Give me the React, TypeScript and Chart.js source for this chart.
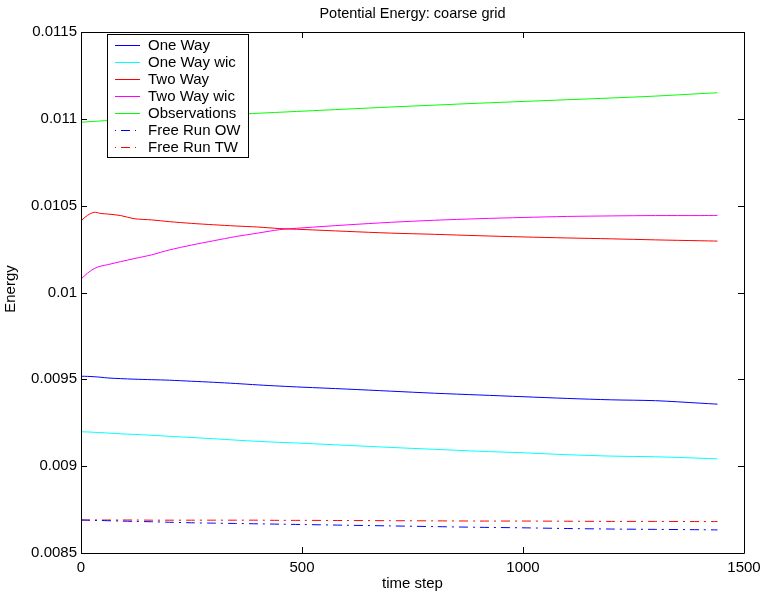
import React, { useEffect, useRef } from "react";
import { Chart, registerables } from "chart.js";

Chart.register(...registerables);

const timeSteps = [0, 15, 30, 45, 60, 90, 120, 160, 200, 250, 300, 350, 400, 450, 500, 600, 700, 800, 900, 1000, 1100, 1200, 1300, 1400, 1440];

const oneWay = [0.009518, 0.009517, 0.009515, 0.009512, 0.009508, 0.009504, 0.009501, 0.009498, 0.009495, 0.009489, 0.009483, 0.009476, 0.009468, 0.009461, 0.009455, 0.009444, 0.009432, 0.00942, 0.00941, 0.0094, 0.00939, 0.009382, 0.009377, 0.009363, 0.009357];
const oneWayWic = [0.009198, 0.009197, 0.009195, 0.009193, 0.009191, 0.009186, 0.009183, 0.009178, 0.009172, 0.009165, 0.009158, 0.00915, 0.009143, 0.009137, 0.009132, 0.00912, 0.009108, 0.009097, 0.009086, 0.009077, 0.009066, 0.009058, 0.009054, 0.009046, 0.009042];
const twoWay = [0.010413, 0.010445, 0.010462, 0.010455, 0.010452, 0.010443, 0.010425, 0.010418, 0.010408, 0.010398, 0.01039, 0.010383, 0.010377, 0.010368, 0.010363, 0.010352, 0.010342, 0.010335, 0.010327, 0.01032, 0.010314, 0.010309, 0.010303, 0.010298, 0.010296];
const twoWayWic = [0.010077, 0.010112, 0.010138, 0.010152, 0.01016, 0.010178, 0.010195, 0.010217, 0.010245, 0.010273, 0.010298, 0.010322, 0.010342, 0.010362, 0.010372, 0.010389, 0.010404, 0.010416, 0.010425, 0.010432, 0.010438, 0.010441, 0.010443, 0.010443, 0.010444];
const observations = [0.01098, 0.010983, 0.010985, 0.010988, 0.01099, 0.010994, 0.010998, 0.011003, 0.011008, 0.011014, 0.01102, 0.011026, 0.011032, 0.011038, 0.011044, 0.011056, 0.011068, 0.011079, 0.01109, 0.0111, 0.01111, 0.01112, 0.011131, 0.011145, 0.01115];
const freeRunOW = [0.00869, 0.008689, 0.008688, 0.008687, 0.008686, 0.008684, 0.008682, 0.00868, 0.008677, 0.008674, 0.008672, 0.00867, 0.008668, 0.008666, 0.008664, 0.00866, 0.008656, 0.008652, 0.008648, 0.008645, 0.008641, 0.008638, 0.008636, 0.008634, 0.008633];
const freeRunTW = [0.00869, 0.00869, 0.00869, 0.00869, 0.00869, 0.00869, 0.00869, 0.008689, 0.008689, 0.008689, 0.008689, 0.008689, 0.008689, 0.008688, 0.008688, 0.008687, 0.008686, 0.008685, 0.008684, 0.008684, 0.008683, 0.008682, 0.008682, 0.008681, 0.008681];

const seriesLabels = ["One Way", "One Way wic", "Two Way", "Two Way wic", "Observations", "Free Run OW", "Free Run TW"];
const seriesColors = ["#0000ff", "#00ffff", "#ff0000", "#ff00ff", "#00ff00", "#0000ff", "#ff0000"];
const seriesData = [oneWay, oneWayWic, twoWay, twoWayWic, observations, freeRunOW, freeRunTW];
const seriesDashed = [false, false, false, false, false, true, true];

const xTicks = [0, 500, 1000, 1500];
const yTicks = [0.0085, 0.009, 0.0095, 0.01, 0.0105, 0.011, 0.0115];
const yTickLabels = ["0.0085", "0.009", "0.0095", "0.01", "0.0105", "0.011", "0.0115"];

const titleText = "Potential Energy: coarse grid";
const xLabel = "time step";
const yLabel = "Energy";

const FONT = "'Liberation Sans', Arial, Helvetica, sans-serif";
const DASH = [9, 5, 2, 5];

const framePlugin = {
  id: "framePlugin",
  afterDraw(chart: any) {
    const ctx = chart.ctx;
    const { left, right, top, bottom } = chart.chartArea;
    const xs = chart.scales.x;
    const ys = chart.scales.y;
    ctx.save();
    ctx.strokeStyle = "#000";
    ctx.lineWidth = 1;
    ctx.beginPath();
    ctx.rect(Math.round(left) + 0.5, Math.round(top) + 0.5, Math.round(right - left), Math.round(bottom - top));
    ctx.stroke();
    const tl = 6;
    ctx.beginPath();
    xTicks.forEach((v) => {
      const px = Math.round(xs.getPixelForValue(v)) + 0.5;
      ctx.moveTo(px, bottom);
      ctx.lineTo(px, bottom - tl);
      ctx.moveTo(px, top);
      ctx.lineTo(px, top + tl);
    });
    yTicks.forEach((v) => {
      const py = Math.round(ys.getPixelForValue(v)) + 0.5;
      ctx.moveTo(left, py);
      ctx.lineTo(left + tl, py);
      ctx.moveTo(right, py);
      ctx.lineTo(right - tl, py);
    });
    ctx.stroke();

    // title & axis labels
    ctx.fillStyle = "#000";
    ctx.font = `14.5px ${FONT}`;
    ctx.textAlign = "center";
    ctx.textBaseline = "middle";
    const cx = (left + right) / 2;
    ctx.fillText(titleText, cx, 14);
    ctx.font = `15px ${FONT}`;
    ctx.fillText(xLabel, cx, 584);
    ctx.save();
    ctx.translate(11, 289);
    ctx.rotate(-Math.PI / 2);
    ctx.fillText(yLabel, 0, 0);
    ctx.restore();

    // legend
    const lx = 107.5, ly = 34.5, lw = 141, lh = 123;
    ctx.fillStyle = "#fff";
    ctx.fillRect(lx, ly, lw, lh);
    ctx.strokeStyle = "#000";
    ctx.strokeRect(lx, ly, lw, lh);
    ctx.font = `15px ${FONT}`;
    ctx.textAlign = "left";
    seriesLabels.forEach((lab, i) => {
      const yy = 45 + i * 17;
      ctx.strokeStyle = seriesColors[i];
      ctx.setLineDash(seriesDashed[i] ? [1, 5, 9, 5] : []);
      ctx.beginPath();
      ctx.moveTo(115, yy + 0.5);
      ctx.lineTo(140, yy + 0.5);
      ctx.stroke();
      ctx.setLineDash([]);
      ctx.fillStyle = "#000";
      ctx.fillText(lab, 148, yy + 1);
    });
    ctx.restore();
  },
};

export default function App() {
  const ref = useRef<HTMLCanvasElement | null>(null);
  useEffect(() => {
    if (!ref.current) return;
    const datasets = seriesLabels.map((lab, i) => ({
      label: lab,
      data: timeSteps.map((t, j) => ({ x: t, y: seriesData[i][j] })),
      borderColor: seriesColors[i],
      backgroundColor: seriesColors[i],
      borderWidth: 1,
      borderDash: seriesDashed[i] ? DASH : [],
      pointRadius: 0,
      tension: 0.3,
      fill: false,
    }));
    const chart = new Chart(ref.current, {
      type: "line",
      data: { datasets },
      options: {
        responsive: false,
        animation: false,
        layout: { padding: { top: 32, right: 19, bottom: 0, left: 0 } },
        plugins: { legend: { display: false }, title: { display: false }, tooltip: { enabled: false } },
        scales: {
          x: {
            type: "linear",
            min: 0,
            max: 1500,
            grid: { display: false, drawTicks: false },
            border: { display: false },
            afterBuildTicks: (s: any) => {
              s.ticks = xTicks.map((v) => ({ value: v }));
            },
            afterFit: (s: any) => {
              s.height = 46;
              s.paddingLeft = 0;
              s.paddingRight = 0;
            },
            ticks: {
              padding: 6,
              color: "#000",
              font: { family: FONT, size: 15 },
              maxRotation: 0,
              callback: (v: any) => String(v),
            },
          },
          y: {
            type: "linear",
            min: 0.0085,
            max: 0.0115,
            grid: { display: false, drawTicks: false },
            border: { display: false },
            afterBuildTicks: (s: any) => {
              s.ticks = yTicks.map((v) => ({ value: v }));
            },
            afterFit: (s: any) => {
              s.width = 81;
              s.paddingTop = 0;
              s.paddingBottom = 0;
            },
            ticks: {
              padding: 4,
              color: "#000",
              font: { family: FONT, size: 15 },
              callback: (v: any) => {
                const idx = yTicks.findIndex((t) => Math.abs(t - v) < 1e-9);
                return idx >= 0 ? yTickLabels[idx] : "";
              },
            },
          },
        },
      },
      plugins: [framePlugin],
    });
    return () => chart.destroy();
  }, []);
  return (
    <div style={{ position: "absolute", left: 0, top: 0, width: 763, height: 599, background: "#fff" }}>
      <canvas ref={ref} width={763} height={599} style={{ width: 763, height: 599 }} />
    </div>
  );
}
